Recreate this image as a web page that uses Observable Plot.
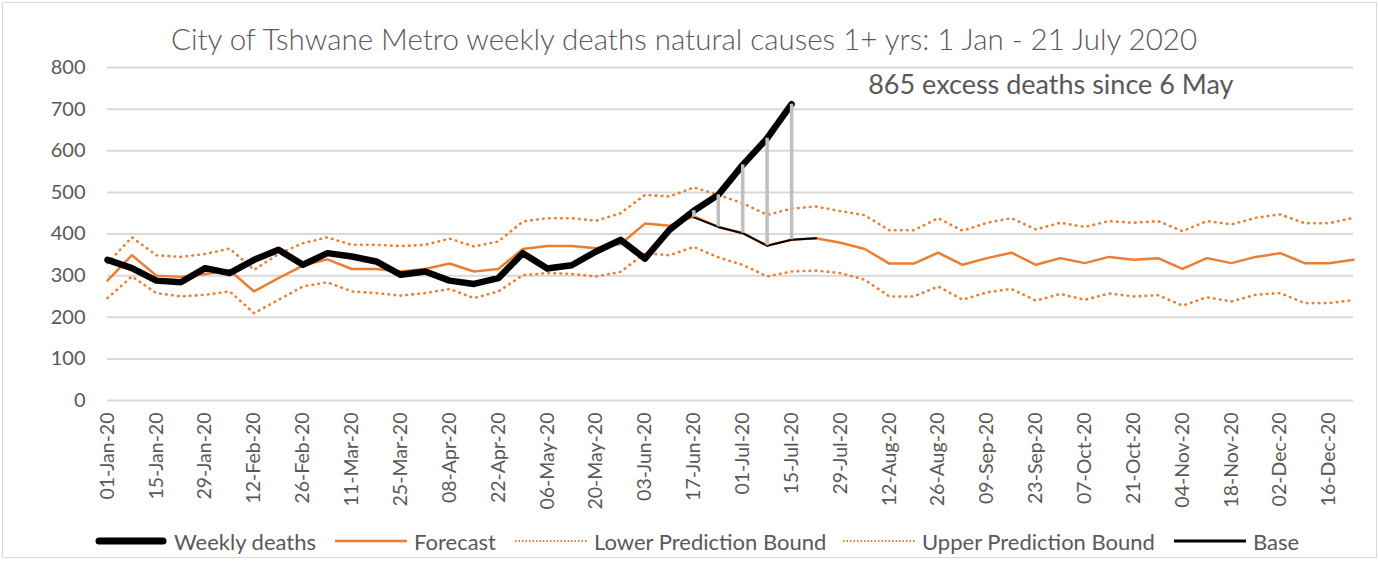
<!DOCTYPE html>
<html>
<head>
<meta charset="utf-8">
<script src="https://cdn.jsdelivr.net/npm/d3@7"></script>
<script src="https://cdn.jsdelivr.net/npm/@observablehq/plot@0.6"></script>
<style>
  html, body { margin: 0; padding: 0; background: #fff; }
  #chart { position: relative; width: 1379px; height: 561px; overflow: hidden; font-family: Lato, "Open Sans", sans-serif; color: #595959; }
  #frame { position: absolute; left: 2px; top: 2px; width: 1373px; height: 554px; border: 1px solid #d9d9d9; pointer-events: none; }
  #title { position: absolute; left: 0; top: 0; width: 1368px; height: 55px; text-align: center; font-size: 29.5px; line-height: 32px; padding-top: 23px; box-sizing: border-box; font-weight: 300; }
  #plot { position: absolute; left: 0; top: 55px; }
  #legend { position: absolute; left: 0; top: 523px; width: 1379px; height: 36px; }
  .item { position: absolute; top: 0; height: 36px; display: flex; align-items: center; font-size: 22px; white-space: nowrap; }
  .item svg { margin-right: 7px; }
</style>
</head>
<body>
<div id="chart">
  <div id="title">City of Tshwane Metro weekly deaths natural causes 1+ yrs: 1 Jan - 21 July 2020</div>
  <div id="plot"></div>
  <div id="legend"></div>
  <div id="frame"></div>
</div>
<script>
// ---- data ----
const weeks = [
  "2020-01-01","2020-01-08","2020-01-15","2020-01-22","2020-01-29",
  "2020-02-05","2020-02-12","2020-02-19","2020-02-26",
  "2020-03-04","2020-03-11","2020-03-18","2020-03-25",
  "2020-04-01","2020-04-08","2020-04-15","2020-04-22","2020-04-29",
  "2020-05-06","2020-05-13","2020-05-20","2020-05-27",
  "2020-06-03","2020-06-10","2020-06-17","2020-06-24",
  "2020-07-01","2020-07-08","2020-07-15","2020-07-22","2020-07-29",
  "2020-08-05","2020-08-12","2020-08-19","2020-08-26",
  "2020-09-02","2020-09-09","2020-09-16","2020-09-23","2020-09-30",
  "2020-10-07","2020-10-14","2020-10-21","2020-10-28",
  "2020-11-04","2020-11-11","2020-11-18","2020-11-25",
  "2020-12-02","2020-12-09","2020-12-16","2020-12-23"
];
const tickWeeks = [
  "2020-01-01","2020-01-15","2020-01-29","2020-02-12","2020-02-26","2020-03-11",
  "2020-03-25","2020-04-08","2020-04-22","2020-05-06","2020-05-20","2020-06-03",
  "2020-06-17","2020-07-01","2020-07-15","2020-07-29","2020-08-12","2020-08-26",
  "2020-09-09","2020-09-23","2020-10-07","2020-10-21","2020-11-04","2020-11-18",
  "2020-12-02","2020-12-16"
];
const yTicks = [0, 100, 200, 300, 400, 500, 600, 700, 800];

// Weekly deaths: 01-Jan .. 15-Jul
const weeklyDeaths = [338, 318, 288, 284, 318, 306, 338, 362, 326, 354, 346, 334, 302, 310, 288, 280, 294,
  354, 317, 325, 358, 386, 341, 410, 456, 494, 566, 630, 712];
const forecast = [288, 349, 300, 297, 304, 313, 262, 294, 324, 339, 316, 316, 310, 316, 329, 310, 316,
  364, 371, 371, 366, 376, 425, 420, 442, 417, 402, 372, 386, 390, 379, 364, 329, 329, 355, 326, 342,
  355, 326, 342, 330, 345, 338, 342, 316, 342, 330, 345, 354, 330, 330, 338];
const lowerBound = [246, 298, 258, 250, 254, 262, 210, 242, 274, 284, 262, 258, 252, 258, 268, 246, 262,
  301, 306, 304, 298, 309, 354, 349, 369, 344, 326, 298, 310, 312, 306, 290, 250, 250, 274, 242, 260,
  268, 240, 256, 242, 257, 250, 253, 228, 248, 238, 254, 258, 234, 234, 241];
const upperBound = [330, 392, 349, 345, 352, 365, 314, 352, 378, 392, 374, 374, 371, 374, 389, 370, 382,
  430, 438, 438, 432, 450, 494, 490, 512, 494, 474, 446, 461, 466, 455, 445, 409, 409, 438, 408, 427,
  438, 411, 427, 417, 431, 427, 431, 407, 431, 423, 439, 447, 426, 426, 439];
// Base: 17-Jun .. 22-Jul
const baseStart = 24;
const base = [440, 417, 402, 372, 386, 390];

const annotation = "865 excess deaths since 6 May";
const seriesNames = ["Weekly deaths", "Forecast", "Lower Prediction Bound", "Upper Prediction Bound", "Base"];

// ---- tables ----
const parse = d3.utcParse("%Y-%m-%d");
const rows = weeks.map((w, i) => ({
  date: parse(w),
  deaths: i < weeklyDeaths.length ? weeklyDeaths[i] : null,
  forecast: forecast[i],
  lower: lowerBound[i],
  upper: upperBound[i],
  base: (i >= baseStart && i < baseStart + base.length) ? base[i - baseStart] : null
}));
const deathRows = rows.filter(r => r.deaths != null);
const baseRows = rows.filter(r => r.base != null);
const excessRows = rows.filter(r => r.deaths != null && r.base != null);

const ORANGE = "#ed7d31";
const GREY = "#595959";

const chart = Plot.plot({
  width: 1379,
  height: 470,
  marginLeft: 107,
  marginRight: 26,
  marginTop: 12,
  marginBottom: 125,
  style: { fontFamily: "Lato, 'Open Sans', sans-serif", color: GREY, background: "transparent", overflow: "visible" },
  x: { type: "utc", domain: [parse(weeks[0]), parse(weeks[weeks.length - 1])] },
  y: { domain: [0, 800] },
  marks: [
    Plot.gridY(yTicks, { stroke: "#d9d9d9", strokeOpacity: 1, strokeWidth: 2 }),
    Plot.axisY({ ticks: yTicks, tickSize: 0, tickPadding: 22, fontSize: 20, label: null, fill: GREY }),
    Plot.axisX({
      ticks: tickWeeks.map(parse),
      tickFormat: d3.utcFormat("%d-%b-%y"),
      tickRotate: -90, tickSize: 0, tickPadding: 12, fontSize: 19.5, label: null, fill: GREY
    }),
    Plot.line(rows, { x: "date", y: "lower", stroke: ORANGE, strokeWidth: 2.6, strokeDasharray: "0.6 5.4", strokeLinecap: "round" }),
    Plot.line(rows, { x: "date", y: "upper", stroke: ORANGE, strokeWidth: 2.6, strokeDasharray: "0.6 5.4", strokeLinecap: "round" }),
    Plot.line(rows, { x: "date", y: "forecast", stroke: ORANGE, strokeWidth: 2.5 }),
    Plot.line(deathRows, { x: "date", y: "deaths", stroke: "black", strokeWidth: 6.5, strokeLinejoin: "round" }),
    Plot.line(baseRows, { x: "date", y: "base", stroke: "black", strokeWidth: 2 }),
    Plot.ruleX(excessRows, { x: "date", y1: "base", y2: "deaths", stroke: "#bfbfbf", strokeWidth: 3.5 }),
    Plot.text([annotation], { frameAnchor: "top-right", dx: -120, dy: 18, text: d => d, textAnchor: "end", lineAnchor: "middle", fontSize: 27, fill: GREY })
  ]
});
document.getElementById("plot").appendChild(chart);

// ---- legend ----
const legend = document.getElementById("legend");
const legendX = [95, 335, 515, 843, 1174];
const swatch = [
  { stroke: "black", width: 7, dash: null, cap: "round" },
  { stroke: ORANGE, width: 2.5, dash: null, cap: "butt" },
  { stroke: ORANGE, width: 2, dash: "1.5 2", cap: "butt" },
  { stroke: ORANGE, width: 2, dash: "1.5 2", cap: "butt" },
  { stroke: "black", width: 3, dash: null, cap: "butt" }
];
seriesNames.forEach((name, i) => {
  const div = document.createElement("div");
  div.className = "item";
  div.style.left = legendX[i] + "px";
  const s = swatch[i];
  div.innerHTML = `<svg width="72" height="12"><line x1="${s.cap === "round" ? 4 : 0}" x2="${s.cap === "round" ? 68 : 72}" y1="6" y2="6" stroke="${s.stroke}" stroke-width="${s.width}" stroke-linecap="${s.cap}" ${s.dash ? `stroke-dasharray="${s.dash}"` : ""}/></svg><span>${name}</span>`;
  legend.appendChild(div);
});
</script>
</body>
</html>
